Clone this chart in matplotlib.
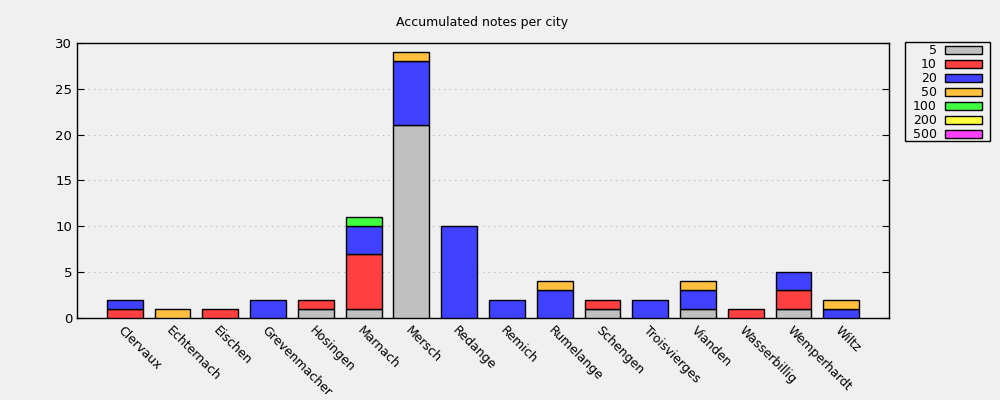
import numpy as np
import matplotlib.pyplot as plt
from matplotlib.patches import Rectangle

cities = ["Clervaux", "Echternach", "Eischen", "Grevenmacher", "Hosingen", "Marnach",
          "Mersch", "Redange", "Remich", "Rumelange", "Schengen", "Troisvierges",
          "Vianden", "Wasserbillig", "Wemperhardt", "Wiltz"]
notes = ["5", "10", "20", "50", "100", "200", "500"]
colors = ["#c0c0c0", "#ff4040", "#4040ff", "#ffc040", "#40ff40", "#ffff40", "#ff40ff"]

n5 = [0, 0, 0, 0, 1, 1, 21, 0, 0, 0, 1, 0, 1, 0, 1, 0]
n10 = [1, 0, 1, 0, 1, 6, 0, 0, 0, 0, 1, 0, 0, 1, 2, 0]
n20 = [1, 0, 0, 2, 0, 3, 7, 10, 2, 3, 0, 2, 2, 0, 2, 1]
n50 = [0, 1, 0, 0, 0, 0, 1, 0, 0, 1, 0, 0, 1, 0, 0, 1]
n100 = [0, 0, 0, 0, 0, 1, 0, 0, 0, 0, 0, 0, 0, 0, 0, 0]
n200 = [0] * 16
n500 = [0] * 16
series = [n5, n10, n20, n50, n100, n200, n500]

bg = "#f0f0f0"
fig = plt.figure(figsize=(10, 4), dpi=100, facecolor=bg)
ax = fig.add_axes([0.077, 0.205, 0.812, 0.688])
ax.set_facecolor(bg)

x = np.arange(len(cities))
bottom = np.zeros(len(cities))
for vals, c in zip(series, colors):
    vals = np.array(vals)
    mask = vals > 0
    ax.bar(x[mask], vals[mask], 0.75, bottom=bottom[mask], color=c,
           edgecolor="black", linewidth=1, zorder=3)
    bottom += vals

ax.set_xlim(-1, 16)
ax.set_ylim(0, 30)
ax.set_yticks(range(0, 31, 5))
ax.tick_params(axis="y", direction="in", right=True, length=5, labelsize=9.5)
ax.set_xticks(x)
ax.set_xticklabels(cities, rotation=-45, ha="left", va="top", rotation_mode="anchor", fontsize=9)
ax.tick_params(axis="x", length=0, pad=4)
for y in range(5, 30, 5):
    ax.axhline(y, color="#b0b0b0", linestyle=(0, (1, 4)), linewidth=0.8, zorder=1)
for s in ax.spines.values():
    s.set_linewidth(1)

fig.text(0.482, 0.944, "Accumulated notes per city", ha="center", va="center", fontsize=9)

# legend box
fig.patches.append(Rectangle((0.905, 0.6475), 0.085, 0.2475, transform=fig.transFigure,
                             facecolor="none", edgecolor="black", linewidth=1))
for i, (lab, c) in enumerate(zip(notes, colors)):
    yc = 1 - (50 + 14 * i) / 400
    fig.text(0.937, yc, lab, ha="right", va="center", fontsize=9)
    fig.patches.append(Rectangle((0.945, yc - 0.009), 0.037, 0.018, transform=fig.transFigure,
                                 facecolor=c, edgecolor="black", linewidth=1))

fig.savefig("out.png", dpi=100, facecolor=bg)
